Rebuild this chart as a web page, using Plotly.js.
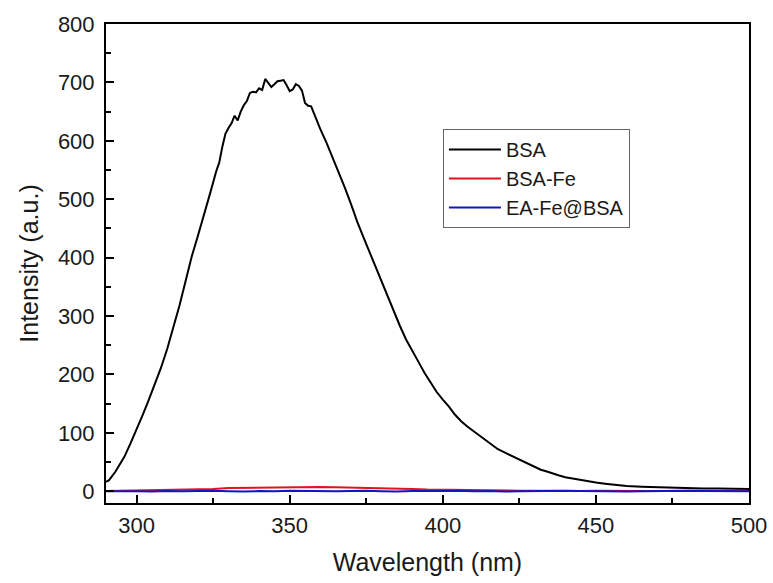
<!DOCTYPE html>
<html>
<head>
<meta charset="utf-8">
<script src="https://cdn.plot.ly/plotly-3.0.1.min.js"></script>
<style>
  html, body { margin: 0; padding: 0; background: #ffffff; }
  #chart { width: 773px; height: 583px; }
</style>
</head>
<body>
<div id="chart"></div>
<script>
// BSA fluorescence spectrum
const bsaWavelength = [290,291,293,296,298,300,302,304,306,308,310,312,314,316,318,320,322,324,326,327,328,329,330,331,332,333,334,335,336,337,338,339,340,341,342,343,344,345,346,347,348,349,350,351,352,353,354,355,356,357,358,359,360,362,364,366,368,370,372,374,376,378,380,382,384,386,388,390,392,394,396,398,400,402,404,406,408,410,412,414,416,418,420,422,424,426,428,430,432,434,436,438,440,442,444,446,448,450,453,456,460,465,470,475,480,485,490,495,500];
const bsaIntensity = [16,19,33,59,82,105,131,157,185,212,244,280,318,360,402,437,472,510,548,563,590,612,622,630,643,635,650,661,668,682,684,683,690,687,706,698,692,697,702,703,704,695,685,688,697,694,686,665,660,659,645,633,620,597,572,546,520,492,462,436,410,384,360,334,308,283,260,240,222,203,186,170,157,145,131,120,111,103,95,87,79,72,67,62,56,51,46,41,37,34,30,27,24,22,20,18,16,15,13,11,9,8,7,6.5,6,5,5,4,4];

// BSA-Fe and EA-Fe@BSA (near-baseline spectra)
const baseWavelength = [290,295,300,305,310,315,320,325,330,335,340,345,350,355,360,365,370,375,380,385,390,395,400,405,410,415,420,425,430,435,440,445,450,455,460,465,470,475,480,485,490,495,500];
const bsaFeIntensity = [0.5,1,1.5,1,2,2.5,3.5,4,5.5,6,6.5,7,7.5,7,7.5,7,6.5,6,6,5,4,3,2.5,2,1.5,1,1.5,1,1,0.5,1,0.5,1,0.5,1,0.5,0.5,1,0.5,1,0.5,1,1];
const eaFeBsaIntensity = [0,0.5,0,-0.5,0.5,0,0.5,1,0,-0.5,0.5,0,1,0.5,-0.5,0,0.5,1,0,-0.5,0.5,0,0.5,1,0,0.5,-0.5,0,0.5,0,1,0.5,0,0.5,-0.5,0,0.5,0,1,0.5,0,0.5,0];

const seriesNames = ['BSA', 'BSA-Fe', 'EA-Fe@BSA'];
const xTickValues = [300, 350, 400, 450, 500];
const yTickValues = [0, 100, 200, 300, 400, 500, 600, 700, 800];

const FONT = 'Liberation Sans, Arial, Helvetica, sans-serif';

const traces = [
  { x: bsaWavelength, y: bsaIntensity, name: seriesNames[0], type: 'scatter', mode: 'lines',
    line: { color: '#000000', width: 2 } },
  { x: baseWavelength, y: bsaFeIntensity, name: seriesNames[1], type: 'scatter', mode: 'lines',
    line: { color: '#e0141e', width: 2 } },
  { x: baseWavelength, y: eaFeBsaIntensity, name: seriesNames[2], type: 'scatter', mode: 'lines',
    line: { color: '#1414c0', width: 2 } }
];

const layout = {
  width: 773, height: 583,
  margin: { l: 106, r: 24, t: 24, b: 80, pad: 0 },
  paper_bgcolor: '#ffffff', plot_bgcolor: '#ffffff',
  font: { family: FONT, color: '#1a1a1a', size: 22 },
  showlegend: true,
  legend: {
    x: 0.524, y: 0.781, xanchor: 'left', yanchor: 'top',
    bgcolor: '#ffffff', bordercolor: '#666666', borderwidth: 1,
    font: { family: FONT, size: 20, color: '#1a1a1a' },
    itemwidth: 52
  },
  xaxis: {
    range: [290, 500], tickmode: 'array', tickvals: xTickValues,
    ticks: 'inside', ticklen: 8, tickwidth: 2, tickcolor: '#000',
    minor: { dtick: 25, tick0: 300, ticks: 'inside', ticklen: 5, tickwidth: 2, tickcolor: '#000' },
    showline: true, linecolor: '#000', linewidth: 2, mirror: true,
    showgrid: false, zeroline: false,
    ticklabelstandoff: 2,
    tickfont: { family: FONT, size: 22, color: '#1a1a1a' },
    title: { text: 'Wavelength (nm)', font: { family: FONT, size: 25, color: '#1a1a1a' }, standoff: 16 }
  },
  yaxis: {
    range: [-20, 800], tickmode: 'array', tickvals: yTickValues,
    ticks: 'inside', ticklen: 8, tickwidth: 2, tickcolor: '#000',
    minor: { dtick: 50, tick0: 0, ticks: 'inside', ticklen: 5, tickwidth: 2, tickcolor: '#000' },
    showline: true, linecolor: '#000', linewidth: 2, mirror: true,
    showgrid: false, zeroline: false,
    ticklabelstandoff: 5,
    tickfont: { family: FONT, size: 22, color: '#1a1a1a' },
    title: { text: 'Intensity (a.u.)', font: { family: FONT, size: 25, color: '#1a1a1a' }, standoff: 12 }
  }
};

Plotly.newPlot('chart', traces, layout, { displayModeBar: false, staticPlot: true });
</script>
</body>
</html>
